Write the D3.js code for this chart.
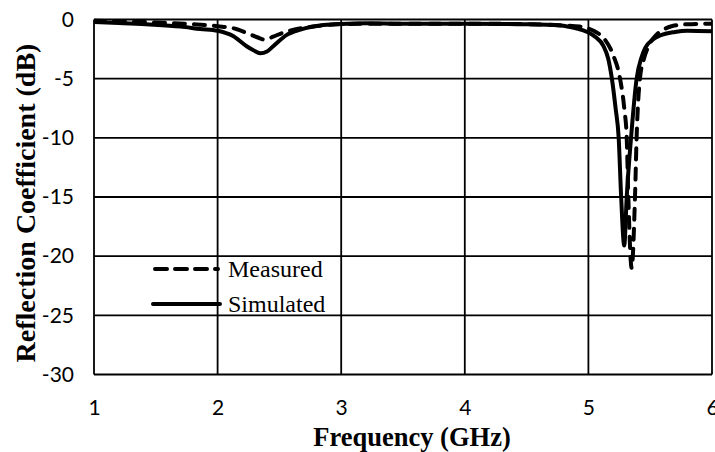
<!DOCTYPE html>
<html>
<head>
<meta charset="utf-8">
<script src="https://cdn.jsdelivr.net/npm/d3@7"></script>
<style>
  html, body { margin: 0; padding: 0; background: #fff; }
  svg { display: block; }
</style>
</head>
<body>
<svg id="chart" width="715" height="452"></svg>
<script>
// ---- data ----
const measFreq = [1.0, 1.45, 1.8, 2.0, 2.15, 2.25, 2.32, 2.38, 2.45, 2.52, 2.6, 2.7, 2.85, 3.0, 3.5, 4.0, 4.5, 4.8, 4.93, 5.05, 5.13, 5.2, 5.256, 5.29, 5.31, 5.323, 5.35, 5.377, 5.39, 5.417, 5.45, 5.48, 5.55, 5.6, 5.68, 5.8, 6.0];
const measDb   = [-0.1, -0.23, -0.4, -0.57, -0.8, -1.2, -1.5, -1.7, -1.45, -1.15, -0.9, -0.7, -0.5, -0.38, -0.35, -0.35, -0.4, -0.5, -0.6, -1.0, -1.65, -3.0, -5, -7.5, -10, -15, -21, -15, -10, -5, -3.3, -2.4, -1.3, -0.9, -0.55, -0.4, -0.35];

const simFreq = [1.0, 1.2, 1.45, 1.7, 1.86, 2.0, 2.125, 2.235, 2.29, 2.345, 2.4, 2.45, 2.56, 2.67, 2.83, 3.0, 3.2, 3.5, 4.0, 4.5, 4.77, 4.9, 4.99, 5.06, 5.12, 5.16, 5.19, 5.22, 5.245, 5.265, 5.29, 5.31, 5.345, 5.39, 5.43, 5.46, 5.52, 5.58, 5.7, 5.8, 6.0];
const simDb   = [-0.2, -0.3, -0.42, -0.6, -0.8, -0.95, -1.4, -2.26, -2.6, -2.85, -2.7, -2.26, -1.3, -0.85, -0.5, -0.38, -0.32, -0.35, -0.35, -0.4, -0.5, -0.75, -1.05, -1.5, -2.2, -3.3, -5.0, -7.5, -10, -15, -19.1, -15, -10, -5, -3.2, -2.4, -1.7, -1.35, -1.05, -0.95, -1.0];

const xTicks = [1, 2, 3, 4, 5, 6];
const yTicks = [0, -5, -10, -15, -20, -25, -30];
const xTitle = "Frequency (GHz)";
const yTitle = "Reflection Coefficient (dB)";
const legendLabels = ["Measured", "Simulated"];

// ---- layout ----
const svg = d3.select("#chart");
const pLeft = 94, pRight = 712, pTop = 19.5, pBottom = 374.5;

const x = d3.scaleLinear().domain([1, 6]).range([pLeft, pRight]);
const y = d3.scaleLinear().domain([-30, 0]).range([pBottom, pTop]);

// grid
const grid = svg.append("g").attr("stroke", "#000").attr("stroke-width", 1.8);
grid.selectAll("line.v").data(xTicks).join("line")
  .attr("class", "v")
  .attr("x1", d => x(d)).attr("x2", d => x(d))
  .attr("y1", pTop).attr("y2", pBottom);
grid.selectAll("line.h").data(yTicks).join("line")
  .attr("class", "h")
  .attr("x1", pLeft).attr("x2", pRight)
  .attr("y1", d => y(d)).attr("y2", d => y(d));

const fmt = d => String(d);

// axes labels via d3 axes (no domain/ticks lines)
const xAxis = svg.append("g")
  .attr("transform", `translate(0,${pBottom})`)
  .call(d3.axisBottom(x).tickValues(xTicks).tickSize(0).tickPadding(26).tickFormat(fmt));
xAxis.select(".domain").remove();
xAxis.selectAll("text").attr("font-family", "Lato, sans-serif").attr("font-size", 21).attr("fill", "#000");

const yAxis = svg.append("g")
  .attr("transform", `translate(${pLeft},0)`)
  .call(d3.axisLeft(y).tickValues(yTicks).tickSize(0).tickPadding(20).tickFormat(fmt));
yAxis.select(".domain").remove();
yAxis.selectAll("text").attr("font-family", "Lato, sans-serif").attr("font-size", 21).attr("fill", "#000");

// titles
svg.append("text")
  .attr("x", 412).attr("y", 446)
  .attr("text-anchor", "middle")
  .attr("font-family", "'Liberation Serif', 'Times New Roman', serif")
  .attr("font-weight", "bold").attr("font-size", 26.5)
  .text(xTitle);

svg.append("text")
  .attr("transform", "translate(35,203) rotate(-90)")
  .attr("text-anchor", "middle")
  .attr("font-family", "'Liberation Serif', 'Times New Roman', serif")
  .attr("font-weight", "bold").attr("font-size", 28)
  .text(yTitle);

// lines
svg.append("clipPath").attr("id", "clip").append("rect")
  .attr("x", pLeft).attr("y", pTop - 4).attr("width", pRight - pLeft).attr("height", pBottom - pTop + 4);

const line = d3.line().x(d => x(d[0])).y(d => y(d[1])).curve(d3.curveMonotoneX);
const simData = simFreq.map((f, i) => [f, simDb[i]]);
const measData = measFreq.map((f, i) => [f, measDb[i]]);

const plot = svg.append("g").attr("clip-path", "url(#clip)");
plot.append("path").datum(simData)
  .attr("d", line).attr("fill", "none").attr("stroke", "#000")
  .attr("stroke-width", 4).attr("stroke-linejoin", "round");
plot.append("path").datum(measData)
  .attr("d", line).attr("fill", "none").attr("stroke", "#000")
  .attr("stroke-width", 4).attr("stroke-dasharray", "11,9")
  .attr("stroke-linecap", "round").attr("stroke-linejoin", "round");

// legend
const leg = svg.append("g");
const legY = [269, 304];
leg.append("line").attr("x1", 155).attr("x2", 218).attr("y1", legY[0]).attr("y2", legY[0])
  .attr("stroke", "#000").attr("stroke-width", 4).attr("stroke-dasharray", "12,8").attr("stroke-linecap", "round");
leg.append("line").attr("x1", 153).attr("x2", 220).attr("y1", legY[1]).attr("y2", legY[1])
  .attr("stroke", "#000").attr("stroke-width", 4).attr("stroke-linecap", "round");
leg.selectAll("text").data(legendLabels).join("text")
  .attr("x", 228).attr("y", (d, i) => legY[i] + 8)
  .attr("font-family", "'Liberation Serif', 'Times New Roman', serif")
  .attr("font-size", 24).attr("fill", "#000")
  .text(d => d);
</script>
</body>
</html>
